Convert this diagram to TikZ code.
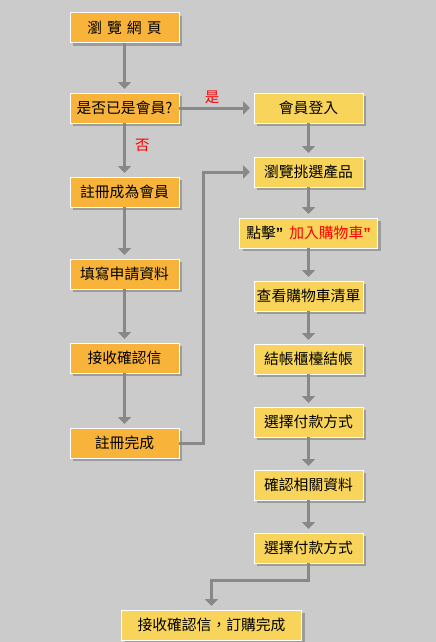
\documentclass[tikz,border=0pt]{standalone}
\usepackage{fontspec}
\setmainfont{Noto Sans CJK TC}
\newfontfamily\quotefont{Liberation Sans}
\usepackage{xcolor}
\usepackage{tikz}
\usetikzlibrary{arrows.meta,positioning,shadows}

\definecolor{bggray}{HTML}{CBCBCB}
\definecolor{regorange}{HTML}{F8B43A}
\definecolor{shopyellow}{HTML}{F8D55A}
\definecolor{linegray}{HTML}{888888}
\definecolor{shadegray}{HTML}{9C9C9C}

\newcommand{\rquote}{{\quotefont\bfseries ”}}

\begin{document}
\begin{tikzpicture}[
   x=1pt,y=-1pt,
   >={Triangle[width=13pt,length=7pt]},
   box/.style={draw=white,line width=1pt,minimum height=30pt,minimum width=109pt,
               inner sep=0pt,outer sep=0pt,font=\fontsize{14.8}{17}\selectfont,
               general shadow={fill=shadegray,shadow xshift=3pt,shadow yshift=-3pt}},
   reg/.style={box,fill=regorange},
   shop/.style={box,fill=shopyellow},
   lbl/.style={text=red,inner sep=0pt,font=\fontsize{14.5}{17}\selectfont},
   flow/.style={->,line width=3pt,draw=linegray,shorten >=4pt}
  ]
  \path[use as bounding box,fill=bggray] (0,0) rectangle (436,642);

  \node[reg] (web) at (124.5,28) {瀏\hspace{5pt}覽\hspace{5pt}網\hspace{5pt}頁};
  \node[reg,below=50pt of web]    (member) {是否已是會員?};
  \node[reg,below=54pt of member] (signup) {註冊成為會員};
  \node[reg,below=52pt of signup] (apply)  {填寫申請資料};
  \node[reg,below=54pt of apply]  (mail)   {接收確認信};
  \node[reg,below=55pt of mail]   (done)   {註冊完成};

  \node[shop,right=75pt of member]  (login)    {會員登入};
  \node[shop,below=34pt of login]   (browse)   {瀏覽挑選產品};
  \node[shop,below=31pt of browse,minimum width=138pt] (addcart)
       {點擊\rquote\hspace{6pt}\textcolor{red}{加入購物車\rquote}};
  \node[shop,below=33pt of addcart] (viewcart) {查看購物車清單};
  \node[shop,below=33pt of viewcart] (checkout) {結帳櫃檯結帳};
  \node[shop,below=33pt of checkout] (payA)    {選擇付款方式};
  \node[shop,below=33pt of payA]    (confirm)  {確認相關資料};
  \node[shop,below=33pt of confirm] (payB)     {選擇付款方式};
  \node[shop,below=47pt of payB,xshift=-97pt,minimum width=180pt] (finish)
       {接收確認信，訂購完成};

  \draw[flow] (web) -- (member);
  \draw[flow] (member) -- node[pos=0.41,right=9pt,lbl] {否} (signup);
  \draw[flow] (signup) -- (apply);
  \draw[flow] (apply) -- (mail);
  \draw[flow] (mail) -- (done);
  \draw[flow] (member) -- node[pos=0.44,above=3pt,lbl] {是} (login);
  \draw[flow] (done.east) -- ([xshift=24pt]done.east) |- (browse.west);

  \draw[flow] (login) -- (browse);
  \draw[flow] (browse) -- (addcart);
  \draw[flow] (addcart) -- (viewcart);
  \draw[flow] (viewcart) -- (checkout);
  \draw[flow] (checkout) -- (payA);
  \draw[flow] (payA) -- (confirm);
  \draw[flow] (confirm) -- (payB);
  \draw[flow] (payB.south) -- ([yshift=-17pt]payB.south) -| (finish.north);
\end{tikzpicture}
\end{document}
